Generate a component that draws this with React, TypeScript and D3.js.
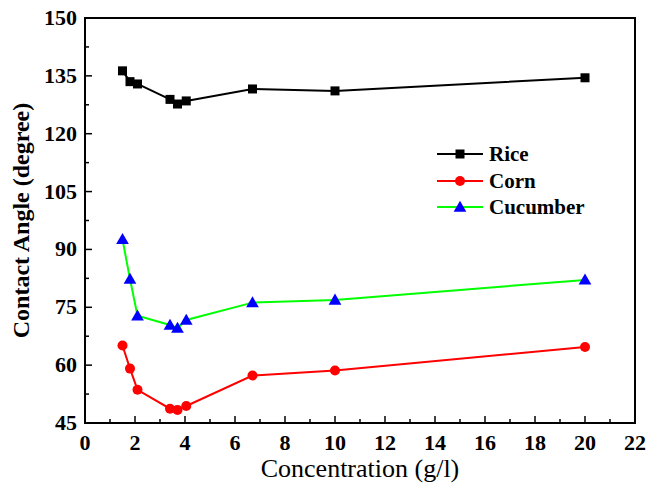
import React from "react";
import * as d3 from "d3";

// concentration (g/l)
const concentration = [1.5, 1.8, 2.1, 3.4, 3.7, 4.05, 6.7, 10, 20];
const rice = [136.3, 133.5, 132.9, 128.9, 127.7, 128.5, 131.6, 131.1, 134.5];
const corn = [65.1, 59.1, 53.6, 48.7, 48.4, 49.4, 57.3, 58.6, 64.7];
const cucumber = [92.6, 82.3, 72.8, 70.4, 69.6, 71.7, 76.2, 76.9, 82.1];

const xTicks = [0, 2, 4, 6, 8, 10, 12, 14, 16, 18, 20, 22];
const xMinor = [1, 3, 5, 7, 9, 11, 13, 15, 17, 19, 21];
const yTicks = [45, 60, 75, 90, 105, 120, 135, 150];
const yMinor = [52.5, 67.5, 82.5, 97.5, 112.5, 127.5, 142.5];

const series = [
  { name: "Rice", values: rice, line: "#000000", fill: "#000000", shape: "square" },
  { name: "Corn", values: corn, line: "#ff0000", fill: "#ff0000", shape: "circle" },
  { name: "Cucumber", values: cucumber, line: "#00ff00", fill: "#0000ff", shape: "triangle" },
];

const W = 647;
const H = 489;
const m = { left: 85, right: 635, top: 18, bottom: 423 };
const serif = "Liberation Serif";

const x = d3.scaleLinear().domain([0, 22]).range([m.left, m.right]);
const y = d3.scaleLinear().domain([45, 150]).range([m.bottom, m.top]);
const triangle = d3.symbol(d3.symbolTriangle, 70)() as string;

function Marker({ shape, fill, cx, cy }: { shape: string; fill: string; cx: number; cy: number }) {
  if (shape === "square") return <rect x={cx - 4.5} y={cy - 4.5} width={9} height={9} fill={fill} />;
  if (shape === "circle") return <circle cx={cx} cy={cy} r={5} fill={fill} />;
  return <path d={triangle} transform={`translate(${cx},${cy + 1})`} fill={fill} />;
}

export default function App() {
  const line = d3
    .line<number>()
    .x((_, i) => x(concentration[i]))
    .y((d) => y(d));
  const legendY = [154, 181, 207];

  return (
    <div style={{ position: "absolute", left: 0, top: 0, width: W, height: H, background: "#fff" }}>
      <svg width={W} height={H}>
        {/* ticks, inward */}
        {xTicks.map((t) => (
          <g key={"x" + t}>
            <line x1={x(t)} x2={x(t)} y1={m.bottom} y2={m.bottom - 7} stroke="#000" strokeWidth={1.5} />
            <text
              x={x(t)}
              y={m.bottom + 27}
              textAnchor="middle"
              fontFamily={serif}
              fontWeight="bold"
              fontSize={22}
            >
              {t}
            </text>
          </g>
        ))}
        {xMinor.map((t) => (
          <line key={"xm" + t} x1={x(t)} x2={x(t)} y1={m.bottom} y2={m.bottom - 4} stroke="#000" strokeWidth={1.5} />
        ))}
        {yTicks.map((t) => (
          <g key={"y" + t}>
            <line x1={m.left} x2={m.left + 7} y1={y(t)} y2={y(t)} stroke="#000" strokeWidth={1.5} />
            <text
              x={m.left - 8}
              y={y(t) + 7}
              textAnchor="end"
              fontFamily={serif}
              fontWeight="bold"
              fontSize={22}
            >
              {t}
            </text>
          </g>
        ))}
        {yMinor.map((t) => (
          <line key={"ym" + t} x1={m.left} x2={m.left + 4} y1={y(t)} y2={y(t)} stroke="#000" strokeWidth={1.5} />
        ))}

        {/* frame */}
        <rect
          x={m.left}
          y={m.top}
          width={m.right - m.left}
          height={m.bottom - m.top}
          fill="none"
          stroke="#000"
          strokeWidth={2}
        />

        {/* axis titles */}
        <text x={360} y={477} textAnchor="middle" fontFamily={serif} fontSize={26}>
          Concentration (g/l)
        </text>
        <text
          transform={`translate(29,${(m.top + m.bottom) / 2}) rotate(-90)`}
          textAnchor="middle"
          fontFamily={serif}
          fontWeight="bold"
          fontSize={24}
        >
          Contact Angle (degree)
        </text>

        {/* series */}
        {series.map((s) => (
          <g key={s.name}>
            <path d={line(s.values) as string} fill="none" stroke={s.line} strokeWidth={2} />
            {s.values.map((v, i) => (
              <Marker key={i} shape={s.shape} fill={s.fill} cx={x(concentration[i])} cy={y(v)} />
            ))}
          </g>
        ))}

        {/* legend */}
        {series.map((s, i) => (
          <g key={"leg" + s.name}>
            <line x1={437} x2={483} y1={legendY[i]} y2={legendY[i]} stroke={s.line} strokeWidth={2} />
            <Marker shape={s.shape} fill={s.fill} cx={460} cy={legendY[i]} />
            <text
              x={489}
              y={legendY[i] + 7}
              fontFamily={serif}
              fontWeight="bold"
              fontSize={21}
            >
              {s.name}
            </text>
          </g>
        ))}
      </svg>
    </div>
  );
}
